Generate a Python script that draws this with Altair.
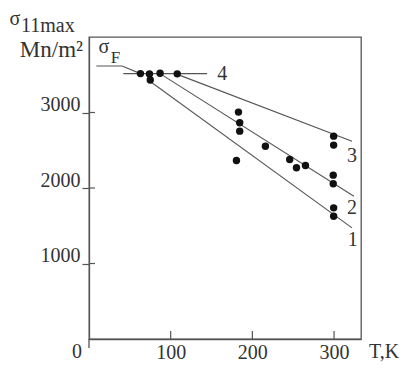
import altair as alt
import pandas as pd

# ---- data ----
pt_T = [63, 74, 75, 87, 108,
        183, 184.5, 184.5, 180.5, 216, 245.7, 254, 265,
        299.5, 299.5, 299, 299, 299.5, 299.5]
pt_S = [3515, 3510, 3430, 3520, 3512,
        3005, 2865, 2753, 2365, 2554, 2378, 2268, 2298,
        2687, 2568, 2170, 2056, 1737, 1626]

line_id = ["F", "F", "F", "4", "4", "1", "1", "2", "2", "3", "3"]
line_T = [9, 40.5, 63, 42, 144.6, 75, 322, 87.4, 324.3, 108.2, 322]
line_S = [3615, 3615, 3515, 3515, 3515, 3411, 1472, 3512, 1891, 3505, 2620]

lab_text = ["4", "3", "2", "1"]
lab_T = [163, 322, 322, 323]
lab_S = [3505, 2422, 1737, 1317]

x_ticks = [100, 200, 300]
y_ticks = [1000, 2000, 3000]

W, H = 272, 302
FONT = "Liberation Serif"
TXT = "#333333"
LN = "#555555"

xs = alt.Scale(domain=[0, 333], nice=False, zero=False)
ys = alt.Scale(domain=[0, 4000], nice=False, zero=False)

pts = pd.DataFrame({"T": pt_T, "S": pt_S})
lines = pd.DataFrame({"T": line_T, "S": line_S, "id": line_id,
                      "o": list(range(len(line_T)))})
labs = pd.DataFrame({"T": lab_T, "S": lab_S, "t": lab_text})
xt = pd.DataFrame({"T": x_ticks})
yt = pd.DataFrame({"S": y_ticks})
one = pd.DataFrame({"a": [0]})

xaxis = alt.Axis(values=x_ticks, ticks=False, tickSize=0, labelPadding=19,
                 labelBaseline="alphabetic", labelFont=FONT, labelFontSize=20,
                 labelColor=TXT, domainColor=LN, domainWidth=1.3, grid=False,
                 title=None, labelFlush=False, format="d")
yaxis = alt.Axis(values=y_ticks, tickSize=7, tickColor=LN, tickWidth=1.2,
                 labelPadding=2, labelBaseline="alphabetic", labelOffset=-2,
                 labelFont=FONT, labelFontSize=20, labelColor=TXT,
                 domainColor=LN, domainWidth=1.3, grid=False, title=None,
                 format="d")

base_lines = alt.Chart(lines).mark_line(color=LN, strokeWidth=1.1).encode(
    x=alt.X("T:Q", scale=xs, axis=xaxis),
    y=alt.Y("S:Q", scale=ys, axis=yaxis),
    detail="id:N",
    order="o:Q",
)

points = alt.Chart(pts).mark_circle(color="#111111", opacity=1, size=55).encode(
    x=alt.X("T:Q", scale=xs), y=alt.Y("S:Q", scale=ys))

num_labels = alt.Chart(labs).mark_text(font=FONT, fontSize=20, color=TXT,
                                       baseline="middle").encode(
    x=alt.X("T:Q", scale=xs), y=alt.Y("S:Q", scale=ys), text="t:N")

xtick_in = alt.Chart(xt).mark_rule(color=LN, strokeWidth=1.2).encode(
    x=alt.X("T:Q", scale=xs), y=alt.value(H), y2=alt.value(H - 8))
ytick_in = alt.Chart(yt).mark_rule(color=LN, strokeWidth=1.2).encode(
    y=alt.Y("S:Q", scale=ys), x=alt.value(0), x2=alt.value(6))
ext = alt.Chart(one).mark_rule(color=LN, strokeWidth=1.3).encode(
    x=alt.value(0), y=alt.value(H), y2=alt.value(H + 9))


def ptext(s, x, y, size=20, align="left"):
    return alt.Chart(one).mark_text(text=s, font=FONT, fontSize=size, color=TXT,
                                    align=align, baseline="alphabetic").encode(
        x=alt.value(x), y=alt.value(y))


texts = [
    ptext("σ", -74, -12, 20, "center"),
    ptext("11max", -68, -5, 20),
    ptext("Mn/m²", -6, 20, 23, "right"),
    ptext("T,K", 280, 321, 20),
    ptext("0", -12, 321, 20, "center"),
    ptext("σ", 15, 16, 20, "center"),
    ptext("F", 26.5, 26, 17, "center"),
]

chart = alt.layer(base_lines, points, num_labels, xtick_in, ytick_in, ext,
                  *texts).properties(
    width=W, height=H, autosize="none",
    padding={"left": 81, "top": 29, "right": 40, "bottom": 25},
    background="white",
).configure_view(stroke=LN, strokeWidth=1.3)

chart.save("out.html", embed_options={"renderer": "svg", "actions": False})
